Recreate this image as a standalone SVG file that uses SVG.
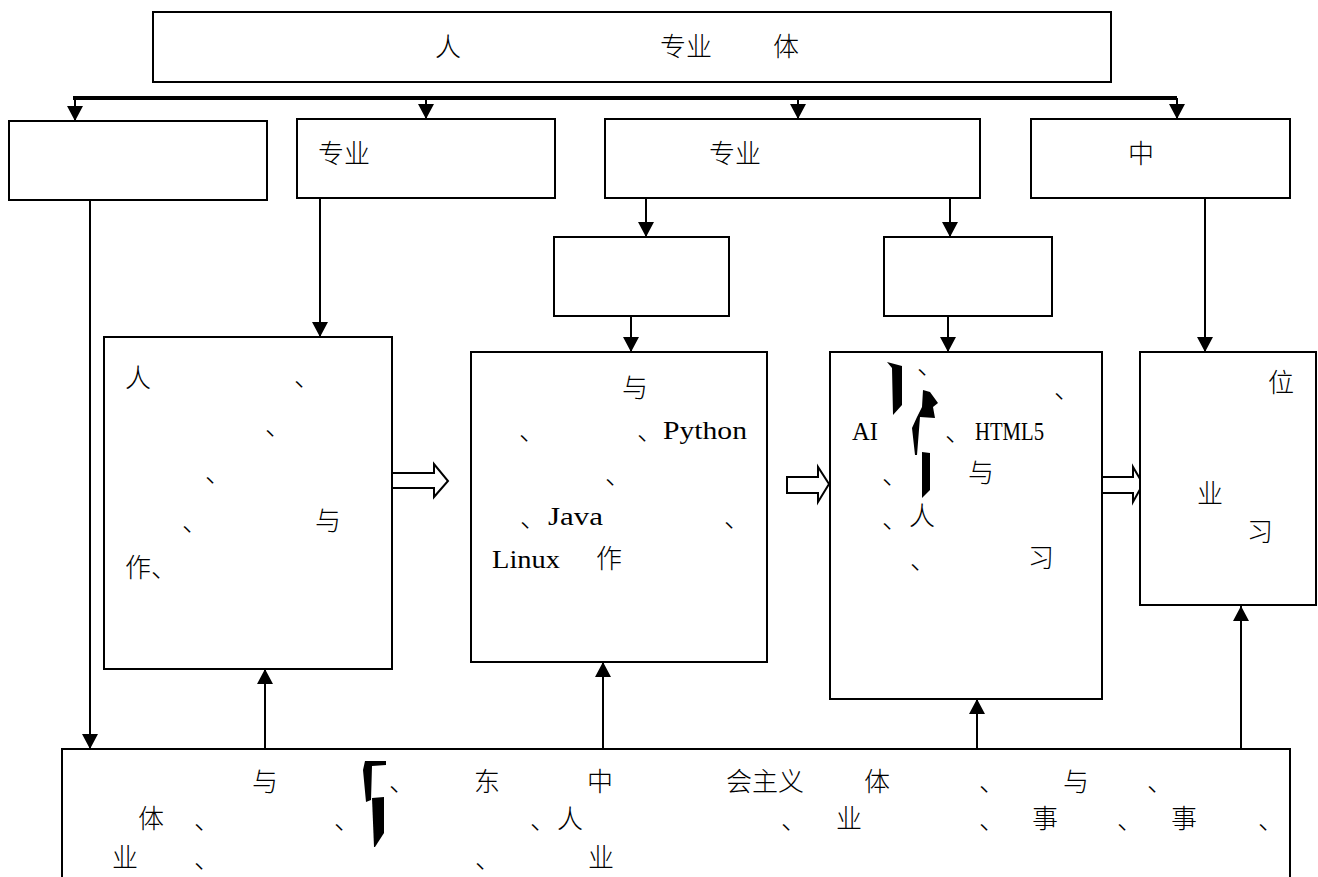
<svg xmlns="http://www.w3.org/2000/svg" width="1318" height="877" viewBox="0 0 1318 877">
<style>
.box{fill:#fff;stroke:#000;stroke-width:2}
.ln{fill:none;stroke:#000;stroke-width:2}
.bus{fill:none;stroke:#000;stroke-width:4}
.blk{fill:#fff;stroke:#000;stroke-width:2;stroke-linejoin:miter}
.t{font-family:"Noto Sans CJK SC","Noto Sans CJK TC",sans-serif;font-size:26px;font-weight:300;fill:#000}
.l{font-family:"Liberation Serif","Noto Sans CJK SC",serif;font-size:25px;fill:#000}
.art{fill:#000}
</style>
<defs>
<marker id="ah" markerUnits="userSpaceOnUse" markerWidth="16" markerHeight="16" refX="15" refY="8" orient="auto">
<path d="M0,0 L15,8 L0,16 Z" fill="#000"/>
</marker>
</defs>
<rect width="1318" height="877" fill="#fff"/>

<g id="connectors">
<line class="bus" x1="73" y1="98" x2="1177" y2="98"/>
<line class="ln" x1="75" y1="98" x2="75" y2="121" marker-end="url(#ah)"/>
<line class="ln" x1="426" y1="98" x2="426" y2="119" marker-end="url(#ah)"/>
<line class="ln" x1="798" y1="98" x2="798" y2="119" marker-end="url(#ah)"/>
<line class="ln" x1="1177" y1="98" x2="1177" y2="119" marker-end="url(#ah)"/>
<line class="ln" x1="90" y1="200" x2="90" y2="749" marker-end="url(#ah)"/>
<line class="ln" x1="320" y1="198" x2="320" y2="337" marker-end="url(#ah)"/>
<line class="ln" x1="646" y1="198" x2="646" y2="237" marker-end="url(#ah)"/>
<line class="ln" x1="950" y1="198" x2="950" y2="237" marker-end="url(#ah)"/>
<line class="ln" x1="631" y1="316" x2="631" y2="352" marker-end="url(#ah)"/>
<line class="ln" x1="948" y1="316" x2="948" y2="352" marker-end="url(#ah)"/>
<line class="ln" x1="1205" y1="198" x2="1205" y2="352" marker-end="url(#ah)"/>
<line class="ln" x1="265" y1="749" x2="265" y2="669" marker-end="url(#ah)"/>
<line class="ln" x1="603" y1="749" x2="603" y2="662" marker-end="url(#ah)"/>
<line class="ln" x1="977" y1="749" x2="977" y2="699" marker-end="url(#ah)"/>
<line class="ln" x1="1241" y1="749" x2="1241" y2="606" marker-end="url(#ah)"/>
<path class="blk" d="M392,473 H434 V464 L448,481 L434,497 V488 H392 Z"/>
<path class="blk" d="M787,477 H818 V467 L829,484 L818,502 V493 H787 Z"/>
<path class="blk" d="M1102,477 H1133 V467 L1143,484 L1133,502 V493 H1102 Z"/>
</g>

<g id="top">
<rect class="box" x="153" y="12" width="958" height="70"/>
<text class="t" x="435" y="56">人</text>
<text class="t" x="660" y="56">专业</text>
<text class="t" x="773" y="56">体</text>
</g>

<g id="boxA"><rect class="box" x="9" y="121" width="258" height="79"/></g>
<g id="boxB"><rect class="box" x="297" y="119" width="258" height="79"/>
<text class="t" x="318" y="163">专业</text></g>
<g id="boxC"><rect class="box" x="605" y="119" width="375" height="79"/>
<text class="t" x="709" y="163">专业</text></g>
<g id="boxD"><rect class="box" x="1031" y="119" width="259" height="79"/>
<text class="t" x="1128" y="163">中</text></g>

<g id="small1"><rect class="box" x="554" y="237" width="175" height="79"/></g>
<g id="small2"><rect class="box" x="884" y="237" width="168" height="79"/></g>

<g id="big1"><rect class="box" x="104" y="337" width="288" height="332"/>
<text class="t" x="125" y="387">人</text>
<text class="t" x="294" y="386">、</text>
<text class="t" x="265" y="435">、</text>
<text class="t" x="205" y="482">、</text>
<text class="t" x="182" y="531">、</text>
<text class="t" x="315" y="530">与</text>
<text class="t" x="125" y="577">作、</text>
</g>

<g id="big2"><rect class="box" x="471" y="352" width="296" height="310"/>
<text class="t" x="622" y="397">与</text>
<text class="t" x="519" y="440">、</text>
<text class="t" x="637" y="440">、</text>
<text class="l" x="663" y="439" textLength="84" lengthAdjust="spacingAndGlyphs">Python</text>
<text class="t" x="605" y="484">、</text>
<text class="t" x="520" y="527">、</text>
<text class="l" x="548" y="525" textLength="55" lengthAdjust="spacingAndGlyphs">Java</text>
<text class="t" x="724" y="527">、</text>
<text class="l" x="492" y="568" textLength="68" lengthAdjust="spacingAndGlyphs">Linux</text>
<text class="t" x="596" y="568">作</text>
</g>

<g id="big3"><rect class="box" x="830" y="352" width="272" height="347"/>
<text class="t" x="917" y="374">、</text>
<text class="t" x="1054" y="398">、</text>
<text class="l" x="852" y="440" textLength="26" lengthAdjust="spacingAndGlyphs">AI</text>
<text class="t" x="945" y="441">、</text>
<text class="l" x="975" y="440" textLength="69" lengthAdjust="spacingAndGlyphs">HTML5</text>
<text class="t" x="882" y="484">、</text>
<text class="t" x="968" y="482">与</text>
<text class="t" x="882" y="528">、</text>
<text class="t" x="909" y="525">人</text>
<text class="t" x="910" y="569">、</text>
<text class="t" x="1028" y="567">习</text>
<polygon class="art" points="887,362 902,366 902,405 893,415 892,368"/>
<polygon class="art" points="923,390 930,392 938,403 933,407 935,418 920,417 917,455 915,455 912,428 917,417 922,407"/>
<polygon class="art" points="922,452 930,453 930,490 922,498"/>
</g>

<g id="big4"><rect class="box" x="1140" y="352" width="176" height="253"/>
<text class="t" x="1268" y="392">位</text>
<text class="t" x="1197" y="503">业</text>
<text class="t" x="1247" y="541">习</text>
</g>

<g id="bottom"><rect class="box" x="62" y="749" width="1228" height="140"/>
<text class="t" x="252" y="791">与</text>
<text class="t" x="389" y="791">、</text>
<text class="t" x="474" y="791">东</text>
<text class="t" x="587" y="791">中</text>
<text class="t" x="726" y="791">会主义</text>
<text class="t" x="864" y="791">体</text>
<text class="t" x="979" y="791">、</text>
<text class="t" x="1063" y="791">与</text>
<text class="t" x="1147" y="791">、</text>
<text class="t" x="138" y="828">体</text>
<text class="t" x="194" y="829">、</text>
<text class="t" x="334" y="829">、</text>
<text class="t" x="530" y="829">、</text>
<text class="t" x="557" y="828">人</text>
<text class="t" x="781" y="829">、</text>
<text class="t" x="836" y="828">业</text>
<text class="t" x="979" y="829">、</text>
<text class="t" x="1032" y="828">事</text>
<text class="t" x="1117" y="829">、</text>
<text class="t" x="1171" y="828">事</text>
<text class="t" x="1258" y="829">、</text>
<text class="t" x="112" y="867">业</text>
<text class="t" x="194" y="868">、</text>
<text class="t" x="475" y="868">、</text>
<text class="t" x="588" y="867">业</text>
<polygon class="art" points="365,761 386,761 386,765 372,766 371,800 366,802 363,770"/>
<polygon class="art" points="372,798 384,797 384,833 375,847 374,847"/>
</g>
</svg>
